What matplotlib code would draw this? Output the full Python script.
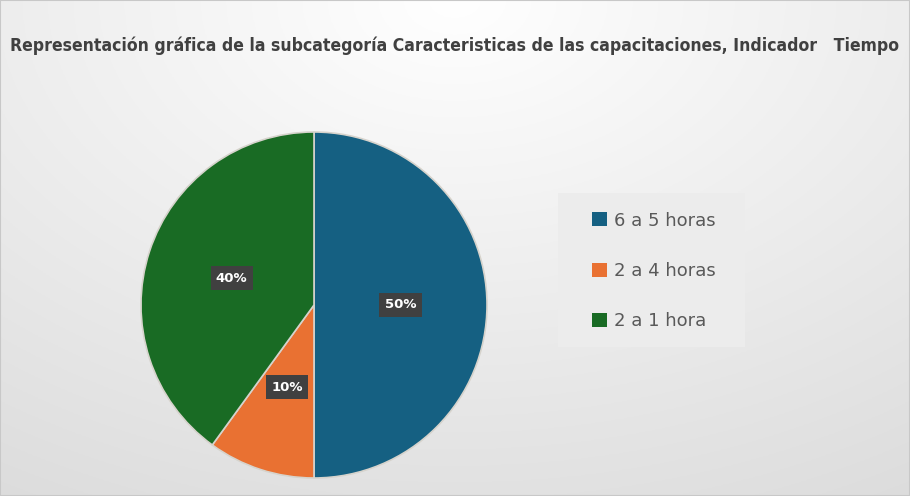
import numpy as np
import matplotlib
matplotlib.use("Agg")
from matplotlib import pyplot as plt
from matplotlib import font_manager

labels = ["6 a 5 horas", "2 a 4 horas", "2 a 1 hora"]
values = [50, 10, 40]
colors = ["#156082", "#E97132", "#196B24"]
title = "Representación gráfica de la subcategoría Caracteristicas de las capacitaciones, Indicador   Tiempo"

W, H = 910, 496
fig = plt.figure(figsize=(W / 100, H / 100), dpi=100)

# fondo degradado
bg = fig.add_axes([0, 0, 1, 1])
yy, xx = np.mgrid[0:1:200j, 0:1:360j]
d = np.sqrt(((xx - 0.5) * 1.2) ** 2 + (yy * 1.0) ** 2)
g = 1.0 - 0.14 * np.clip(d, 0, 1.2) / 1.2
bg.imshow(np.dstack([g, g, g]), extent=[0, 1, 0, 1], aspect="auto", origin="upper")
bg.set_xlim(0, 1)
bg.set_ylim(0, 1)
bg.set_axis_off()
bg.add_patch(plt.Rectangle((0, 0), 1, 1, fill=False, ec="#c8c8c8", lw=1.5, transform=bg.transAxes))
# caja de la leyenda
bg.add_patch(plt.Rectangle((558 / W, 1 - 347 / H), 187 / W, 154 / H, fc="#ececec", ec="none"))

# titulo: fuente condensada si existe, si no se ajusta el tamaño al ancho
fp = font_manager.FontProperties(family="DejaVu Sans", stretch="condensed", weight="bold")
cond = "ondensed" in font_manager.findfont(fp)
t = fig.text(454 / W, 1 - 46 / H, title, ha="center", va="center", fontsize=17.5,
             fontweight="bold", color="#404040", family="DejaVu Sans",
             fontstretch="condensed" if cond else "normal")
r_ = fig.canvas.get_renderer()
w = t.get_window_extent(r_).width
if w > 886:
    t.set_fontsize(17.5 * 886 / w)

cx, cy, r = 314, 305, 173
ax = fig.add_axes([(cx - r) / W, (H - cy - r) / H, 2 * r / W, 2 * r / H])
wedges, _, autotexts = ax.pie(values, colors=colors, startangle=90, counterclock=False,
                              autopct="%d%%", pctdistance=0.5, radius=1,
                              wedgeprops=dict(edgecolor="#d6d3cc", linewidth=1.2))
for a in autotexts:
    a.set_color("white")
    a.set_fontsize(9.5)
    a.set_fontweight("bold")
    a.set_bbox(dict(boxstyle="square,pad=0.4", fc="#404040", ec="none"))
ax.set_xlim(-1, 1)
ax.set_ylim(-1, 1)
ax.set_aspect("auto")

leg = fig.legend(wedges, labels, loc="center left", bbox_to_anchor=(576 / W, 1 - 271 / H),
                 fontsize=13, frameon=False, labelspacing=1.8,
                 handlelength=0.8, handleheight=0.8, handletextpad=0.4,
                 borderpad=0.9, borderaxespad=0, labelcolor="#595959")
for h in leg.legend_handles:
    h.set_edgecolor("none")

fig.savefig("out.png", dpi=100)
